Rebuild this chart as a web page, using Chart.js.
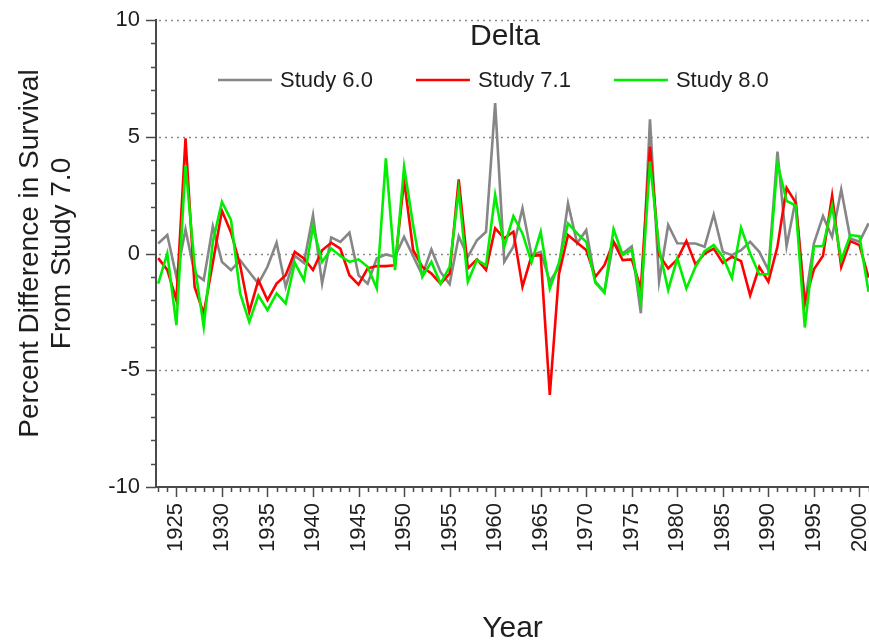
<!DOCTYPE html>
<html>
<head>
<meta charset="utf-8">
<script src="https://cdn.jsdelivr.net/npm/chart.js@4/dist/chart.umd.min.js"></script>
<style>
  html, body { margin: 0; padding: 0; background: #fff; }
  #wrap { width: 869px; height: 644px; position: relative; }
</style>
</head>
<body>
<div id="wrap"><canvas id="c" width="869" height="644"></canvas></div>
<script>
const chartTitle = 'Delta';
const xTitle = 'Year';
const yTitle = ['Percent Difference in Survival', 'From Study 7.0'];
const seriesNames = ['Study 6.0', 'Study 7.1', 'Study 8.0'];
const seriesColors = ['#868686', '#ff0000', '#00ee00'];

const years = [1923,1924,1925,1926,1927,1928,1929,1930,1931,1932,
  1933,1934,1935,1936,1937,1938,1939,1940,1941,1942,
  1943,1944,1945,1946,1947,1948,1949,1950,1951,1952,
  1953,1954,1955,1956,1957,1958,1959,1960,1961,1962,
  1963,1964,1965,1966,1967,1968,1969,1970,1971,1972,
  1973,1974,1975,1976,1977,1978,1979,1980,1981,1982,
  1983,1984,1985,1986,1987,1988,1989,1990,1991,1992,
  1993,1994,1995,1996,1997,1998,1999,2000,2001];

const study60 = [0.43,0.79,-1.0,1.03,-0.86,-1.14,1.17,-0.36,-0.71,-0.29,
  -0.79,-1.29,-0.57,0.46,-1.43,-0.1,-0.4,1.64,-1.29,0.69,
  0.5,0.89,-0.93,-1.29,-0.21,-0.04,-0.14,0.71,-0.11,-0.93,
  0.17,-0.79,-1.31,0.74,-0.14,0.57,0.93,6.44,-0.35,0.29,
  1.93,-0.07,0.07,-1.2,-0.6,2.15,0.44,1.0,-1.2,-1.64,
  0.5,0.0,0.3,-2.56,5.75,-1.2,1.22,0.44,0.43,0.43,
  0.29,1.67,0.07,-0.07,0.14,0.5,0.07,-0.71,4.36,0.31,
  2.31,-2.14,0.43,1.6,0.71,2.74,0.64,0.5,1.29];

const study71 = [-0.2,-0.7,-2.0,4.93,-1.43,-2.57,-0.4,1.83,0.9,-0.5,
  -2.5,-1.14,-2.0,-1.29,-0.93,0.07,-0.21,-0.71,0.14,0.46,
  0.21,-0.93,-1.33,-0.64,-0.54,-0.54,-0.5,3.14,0.14,-0.57,
  -0.86,-1.29,-0.86,3.17,-0.64,-0.25,-0.7,1.08,0.65,0.93,
  -1.42,-0.1,-0.07,-6.06,-0.9,0.79,0.46,0.15,-1.0,-0.5,
  0.5,-0.28,-0.25,-1.5,4.58,-0.06,-0.64,-0.25,0.54,-0.47,
  0.0,0.21,-0.4,-0.14,-0.33,-1.79,-0.57,-1.21,0.3,2.81,
  2.18,-2.1,-0.68,-0.1,2.48,-0.57,0.53,0.36,-1.03];

const study80 = [-1.29,0.0,-3.07,3.79,-0.5,-3.14,0.5,2.21,1.43,-1.71,
  -2.93,-1.8,-2.43,-1.71,-2.14,-0.4,-1.14,1.14,-0.36,0.21,
  -0.11,-0.36,-0.25,-0.57,-1.5,4.07,-0.71,3.71,1.2,-1.0,
  -0.36,-1.29,-0.57,2.71,-1.21,-0.28,-0.5,2.5,0.29,1.6,
  0.86,-0.38,0.93,-1.5,-0.4,1.29,0.86,0.5,-1.25,-1.68,
  1.04,-0.06,0.15,-2.06,3.94,0.2,-1.56,-0.21,-1.5,-0.57,
  0.1,0.36,-0.14,-1.05,1.1,0.0,-0.89,-0.89,3.86,2.25,
  2.05,-3.17,0.31,0.31,2.03,-0.29,0.79,0.74,-1.64];

const xTickLabels = ['1925','1930','1935','1940','1945','1950','1955','1960','1965','1970','1975','1980','1985','1990','1995','2000'];
const yTickLabels = ['-10','-5','0','5','10'];

const FONT = "'Liberation Sans', Arial, Helvetica, sans-serif";
const axisColor = '#4a4a4a';
const textColor = '#1e1e1e';

const seriesValues = [study60, study71, study80];
const datasets = seriesValues.map((vals, i) => ({
  label: seriesNames[i],
  data: years.map((yr, k) => ({ x: yr, y: vals[k] })),
  borderColor: seriesColors[i],
  backgroundColor: seriesColors[i],
  borderWidth: 2.6,
  pointRadius: 0,
  tension: 0,
  fill: false
}));
datasets[0].order = 3; datasets[1].order = 2; datasets[2].order = 1;

const decor = {
  id: 'decor',
  beforeDatasetsDraw(chart) {
    // dotted horizontal reference lines at labelled y ticks
    const { ctx, chartArea, scales } = chart;
    const ys = scales.y;
    ctx.save();
    ctx.strokeStyle = '#8a8a8a';
    ctx.lineWidth = 1.3;
    ctx.setLineDash([2, 4]);
    ys.ticks.forEach(t => {
      if (t.value <= ys.min) return;
      const py = Math.round(ys.getPixelForValue(t.value)) + 0.5;
      ctx.beginPath();
      ctx.moveTo(chartArea.left + 3, py);
      ctx.lineTo(chartArea.right, py);
      ctx.stroke();
    });
    ctx.restore();
  },
  afterDraw(chart) {
    const { ctx, chartArea, scales } = chart;
    const xs = scales.x, ys = scales.y;
    ctx.save();
    ctx.strokeStyle = axisColor;
    ctx.lineWidth = 1.5;
    ctx.beginPath();
    years.forEach(yr => {
      const px = Math.round(xs.getPixelForValue(yr)) + 0.5;
      if (px < chartArea.left - 1 || px > chartArea.right + 1) return;
      const len = (yr % 5 === 0) ? 10 : 5;
      ctx.moveTo(px, chartArea.bottom);
      ctx.lineTo(px, chartArea.bottom + len);
    });
    for (let v = ys.min; v <= ys.max; v += 1) {
      const py = Math.round(ys.getPixelForValue(v)) + 0.5;
      const len = (v % 5 === 0) ? 10 : 5;
      ctx.moveTo(chartArea.left, py);
      ctx.lineTo(chartArea.left - len, py);
    }
    ctx.stroke();

    ctx.fillStyle = textColor;
    ctx.font = '30px ' + FONT;
    ctx.textAlign = 'center';
    ctx.textBaseline = 'middle';
    ctx.fillText(chartTitle, 505, 37);

    ctx.font = '22px ' + FONT;
    ctx.textAlign = 'left';
    let lx = 218;
    const ly = 80;
    chart.data.datasets.forEach(ds => {
      ctx.strokeStyle = ds.borderColor;
      ctx.lineWidth = 2.6;
      ctx.beginPath();
      ctx.moveTo(lx, ly);
      ctx.lineTo(lx + 54, ly);
      ctx.stroke();
      ctx.fillStyle = textColor;
      ctx.fillText(ds.label, lx + 62, ly + 1);
      lx += 62 + ctx.measureText(ds.label).width + 43;
    });
    ctx.restore();
  }
};

new Chart(document.getElementById('c'), {
  type: 'line',
  data: { datasets },
  options: {
    responsive: false,
    animation: false,
    layout: { padding: { top: 20, right: 0, bottom: 0, left: 0 } },
    plugins: { legend: { display: false }, title: { display: false }, tooltip: { enabled: false } },
    scales: {
      x: {
        type: 'linear',
        min: 1922.76,
        max: 2001.05,
        afterFit(s) { s.height = 157; s.paddingRight = 0; s.paddingLeft = 0; },
        grid: { display: false, drawTicks: false },
        border: { display: true, color: axisColor, width: 2 },
        ticks: {
          stepSize: 5,
          includeBounds: false,
          autoSkip: false,
          maxRotation: 90,
          minRotation: 90,
          padding: 16,
          color: textColor,
          font: { family: FONT, size: 22 },
          callback: (v) => { const s = String(v); return xTickLabels.includes(s) ? s : ''; }
        },
        title: {
          display: true,
          text: xTitle,
          color: textColor,
          font: { family: FONT, size: 30, lineHeight: 1 },
          padding: { top: 0, bottom: 0 }
        }
      },
      y: {
        min: -10,
        max: 10,
        afterFit(s) { s.width = 156; s.paddingTop = 0; s.paddingBottom = 0; },
        grid: { display: false, drawTicks: false },
        border: { display: true, color: axisColor, width: 2 },
        ticks: {
          stepSize: 5,
          padding: 16,
          color: textColor,
          font: { family: FONT, size: 22 },
          callback: (v) => { const s = String(v); return yTickLabels.includes(s) ? s : ''; }
        },
        title: {
          display: true,
          text: yTitle,
          color: textColor,
          font: { family: FONT, size: 28, lineHeight: 1.15 },
          padding: { top: 14, bottom: 0 }
        }
      }
    }
  },
  plugins: [decor]
});
</script>
</body>
</html>
